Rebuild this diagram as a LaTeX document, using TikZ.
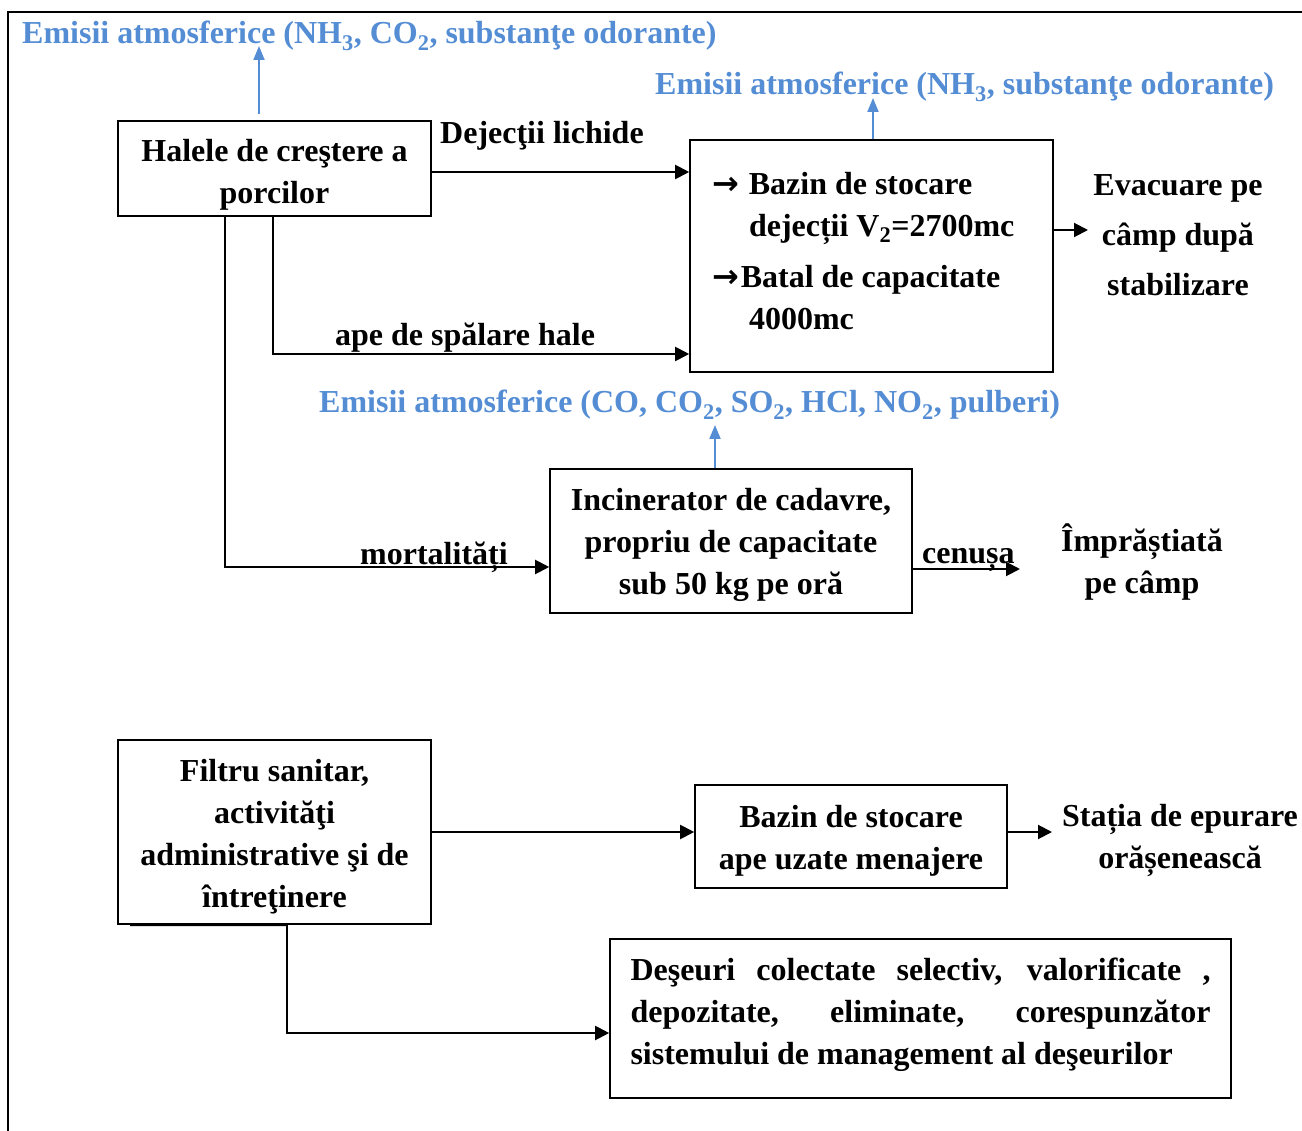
\documentclass[tikz,border=0pt]{standalone}
\usepackage{fontspec}
\setmainfont{Liberation Serif}
\newfontfamily\arrowfont{DejaVu Sans}
\usetikzlibrary{arrows.meta}
\definecolor{emblue}{RGB}{84,141,212}
\newcommand{\ra}{{\arrowfont\bfseries →}}
\newcommand{\topstrut}{\rule{0pt}{31pt}}

\tikzset{
  box/.style={draw, rectangle, line width=1.6pt, align=center, inner sep=0pt,
    font=\bfseries\fontsize{32}{42}\selectfont},
  lbl/.style={inner sep=0pt, align=center, font=\bfseries\fontsize{32}{42}\selectfont},
  emis/.style={lbl, text=emblue, anchor=base west},
  arr/.style={line width=2pt, -{Triangle[length=14pt,width=14pt]}},
  emarr/.style={line width=2pt, emblue, -{Triangle[length=14pt,width=11pt]}},
}

\begin{document}
\begin{tikzpicture}[x=1pt, y=-1pt]
  \useasboundingbox (0,0) rectangle (1302,1131);
  \draw[line width=1.5pt] (8,1131) -- (8,12) -- (1302,12);

  % upper part
  \node[box, minimum width=313pt, minimum height=95pt] (hale) at (274.5,168.5)
    {\rule{0pt}{34pt}Halele de creştere a\\porcilor};
  \node[box, align=flush left, text width=319pt, inner xsep=22pt, minimum height=232pt] (bazin) at (871.5,256)
    {\ra\ \hspace{2pt}Bazin de stocare\\ \hspace*{37pt}dejecții V\textsubscript{2}=2700mc\\[9pt]
     \ra\hspace{2pt}Batal de capacitate\\ \hspace*{37pt}4000mc\rule[-10pt]{0pt}{1pt}};
  \node[lbl, font=\bfseries\fontsize{32}{50}\selectfont] (evac) at (1178,235)
    {Evacuare pe\\câmp după\\stabilizare};
  \node[box, minimum width=362pt, minimum height=144pt] (incin) at (731,541)
    {\topstrut Incinerator de cadavre,\\propriu de capacitate\\sub 50 kg pe oră};
  \node[lbl] (campie) at (1142,562) {Împrăștiată\\pe câmp};

  \node[emis] (em1) at (22,44) {Emisii atmosferice (NH\textsubscript{3}, CO\textsubscript{2}, substanţe odorante)};
  \node[emis] (em2) at (655,95) {Emisii atmosferice (NH\textsubscript{3}, substanţe odorante)};
  \node[emis] (em3) at (319,413) {Emisii atmosferice (CO, CO\textsubscript{2}, SO\textsubscript{2}, HCl, NO\textsubscript{2}, pulberi)};

  \coordinate (e1) at (259,46);
  \coordinate (e2) at (873,98);
  \coordinate (e3) at (715,425);
  \draw[emarr] ([yshift=6pt]hale.north -| e1) -- (e1);
  \draw[emarr] (bazin.north -| e2) -- (e2);
  \draw[emarr] (incin.north -| e3) -- (e3);

  \coordinate (dj) at (0,172);
  \coordinate (ap) at (273,354);
  \coordinate (mo) at (225,567);
  \coordinate (ev) at (1088,230);
  \coordinate (ce) at (1020,569);
  \draw[arr] (hale.east |- dj) -- (bazin.west |- dj);
  \draw[arr] (hale.south -| ap) |- (bazin.west |- ap);
  \draw[arr] (hale.south -| mo) |- (incin.west |- mo);
  \draw[arr] (bazin.east |- ev) -- (ev);
  \draw[arr] (incin.east |- ce) -- (ce);

  \node[lbl, anchor=base west] (ldj) at (440,144) {Dejecţii lichide};
  \node[lbl, anchor=base west] (lap) at (335,346) {ape de spălare hale};
  \node[lbl, anchor=base west] (lmo) at (360,564) {mortalități};
  \node[lbl, anchor=base west] (lce) at (922,563) {cenușa};

  % lower part
  \node[box, minimum width=313pt, minimum height=184pt] (filtru) at (274.5,832)
    {\topstrut Filtru sanitar,\\activităţi\\administrative şi de\\întreţinere};
  \node[box, minimum width=312pt, minimum height=103pt] (menaj) at (851,836.5)
    {\topstrut Bazin de stocare\\ape uzate menajere};
  \node[lbl] (statia) at (1180,840) {Stația de epurare\\orășenească};
  \node[box, align=justify, text width=580pt, inner xsep=20.5pt, minimum height=159pt] (deseuri) at (920.5,1018.5)
    {Deşeuri colectate selectiv, valorificate ,\linebreak depozitate, eliminate, corespunzător\linebreak sistemului de management al deşeurilor\rule[-15pt]{0pt}{1pt}};

  \coordinate (me) at (0,832);
  \coordinate (st) at (1052,832);
  \coordinate (de) at (287,1033);
  \draw[arr] (filtru.east |- me) -- (menaj.west |- me);
  \draw[arr] (menaj.east |- st) -- (st);
  \draw[arr] (filtru.south -| de) |- (deseuri.west |- de);
  \draw[line width=2.4pt] (130,925) -- (filtru.south -| de);
\end{tikzpicture}
\end{document}
